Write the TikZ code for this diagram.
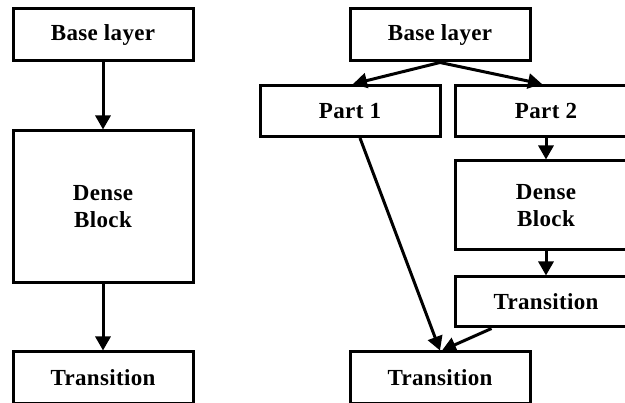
\documentclass[tikz,border=0pt]{standalone}
\usepackage{fontspec}
\setmainfont{Liberation Serif}[LetterSpace=1.5]
\usetikzlibrary{arrows.meta,calc}
\begin{document}
\begin{tikzpicture}[x=1pt,y=-1pt,
  blk/.style={draw=black,line width=3pt,fill=white,inner sep=0pt,
    minimum width=180pt,font=\fontsize{23}{27}\selectfont\bfseries,align=center},
  wide/.style={blk,minimum width=182pt},
  flow/.style={line width=3pt,-{Triangle[width=15pt,length=14pt]}}]
\clip (0,0) rectangle (625,403);
\fill[white] (0,0) rectangle (625,403);

% plain dense block path
\node[blk,minimum height=52pt] (b1) at (103,35) {Base layer};
\node[blk,minimum height=152pt] (d1) at (103,207) {Dense\\Block};
\node[blk,minimum height=52pt] (t1) at (103,378) {Transition};

% cross-stage partial path
\node[blk,minimum height=52pt] (b2) at (440,35) {Base layer};
\node[blk,minimum height=51pt] (p1) at (350,111) {Part 1};
\node[wide,minimum height=51pt] (p2) at (546,111) {Part 2};
\node[wide,minimum height=89pt] (d2) at (546,205.5) {Dense\\Block};
\node[wide,minimum height=50pt] (t2) at (546,302) {Transition};
\node[blk,minimum height=52pt] (t3) at (440,378) {Transition};

\draw[flow] (b1) -- (d1);
\draw[flow] (d1) -- (t1);

\draw[flow] (b2.south) -- ($(p1.north)+(3,0)$);
\draw[flow] (b2.south) -- ($(p2.north)+(-4,0)$);
\draw[flow] (p2) -- (d2);
\draw[flow] (d2) -- (t2);
\draw[flow] ($(p1.south)+(10,0)$) -- (t3.north);
\draw[flow] ($(t2.south west)+(38,0)$) -- ($(t3.north)+(2,0)$);
\end{tikzpicture}
\end{document}
